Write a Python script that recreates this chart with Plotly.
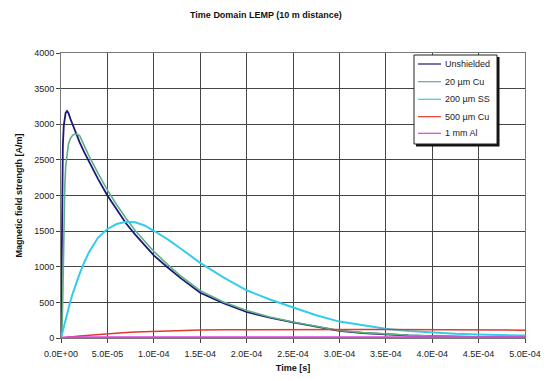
import plotly.graph_objects as go

# time samples [s]
time_s = [0, 1e-6, 2e-6, 3e-6, 4e-6, 5e-6, 6.5e-6, 8e-6, 1e-5, 1.25e-5, 1.5e-5, 1.75e-5,
          2e-5, 2.5e-5, 3e-5, 4e-5, 5e-5, 6e-5, 7e-5, 8e-5, 9e-5, 1e-4, 1.15e-4, 1.3e-4,
          1.5e-4, 1.75e-4, 2e-4, 2.25e-4, 2.5e-4, 2.75e-4, 3e-4, 3.25e-4, 3.5e-4, 3.75e-4,
          4e-4, 4.25e-4, 4.5e-4, 4.75e-4, 5e-4]

unshielded = [0, 1900, 2700, 2980, 3100, 3160, 3185, 3160, 3080, 2990, 2900, 2825,
              2750, 2610, 2480, 2230, 2000, 1800, 1610, 1450, 1300, 1160, 990, 830,
              635, 490, 365, 285, 220, 155, 100, 70, 50, 35,
              25, 18, 13, 10, 8]

cu_20um = [0, 50, 600, 1500, 2100, 2400, 2600, 2720, 2800, 2845, 2862, 2860,
           2840, 2700, 2560, 2310, 2075, 1870, 1680, 1510, 1360, 1215, 1030, 860,
           665, 505, 385, 295, 225, 160, 105, 75, 52, 38,
           28, 20, 15, 11, 9]

ss_200um = [0, 55, 110, 165, 215, 265, 345, 420, 510, 620, 720, 815,
            900, 1060, 1200, 1410, 1530, 1600, 1630, 1625, 1580, 1505, 1385, 1245,
            1055, 850, 670, 540, 430, 320, 230, 175, 130, 100,
            75, 60, 48, 40, 35]

cu_500um = [0, 2, 3, 5, 6, 8, 10, 12, 15, 18, 22, 25,
            28, 34, 40, 50, 60, 70, 78, 85, 90, 95, 102, 107,
            112, 116, 118, 119, 120, 120, 120, 120, 120, 120,
            120, 119, 118, 115, 110]

al_1mm = [0, 2, 3, 4, 5, 6, 6, 7, 7, 7, 7, 7,
          7, 7, 7, 7, 7, 7, 7, 7, 7, 7, 7, 7,
          7, 7, 7, 7, 7, 7, 7, 7, 7, 7,
          7, 7, 7, 7, 7]

series_names = ["Unshielded", "20 µm Cu", "200 µm SS", "500 µm Cu", "1 mm Al"]
series_values = [unshielded, cu_20um, ss_200um, cu_500um, al_1mm]
series_colors = ["#1a1a7a", "#5fae84", "#33ccee", "#e03a2e", "#e040e0"]
series_widths = [1.8, 1.6, 2, 1.5, 2.5]

x_tick_vals = [0, 5e-5, 1e-4, 1.5e-4, 2e-4, 2.5e-4, 3e-4, 3.5e-4, 4e-4, 4.5e-4, 5e-4]
x_tick_text = ["0.0E+00", "5.0E-05", "1.0E-04", "1.5E-04", "2.0E-04", "2.5E-04",
               "3.0E-04", "3.5E-04", "4.0E-04", "4.5E-04", "5.0E-04"]
y_tick_vals = [0, 500, 1000, 1500, 2000, 2500, 3000, 3500, 4000]

FONT = "Liberation Sans, Arial, sans-serif"
W, H = 546, 381
ML, MR, MT, MB = 61, 21, 53, 43
PW, PH = W - ML - MR, H - MT - MB


def px_x(x):
    return (x - ML) / PW


def px_y(y):
    return (H - MB - y) / PH


fig = go.Figure()
for name, vals, col, w in zip(series_names, series_values, series_colors, series_widths):
    fig.add_trace(go.Scatter(x=time_s, y=vals, mode="lines", name=name,
                             line=dict(color=col, width=w), showlegend=False))

# legend box (Excel style with drop shadow)
shapes = [
    dict(type="rect", xref="paper", yref="paper", x0=px_x(416), x1=px_x(499.5),
         y0=px_y(57), y1=px_y(146.5), fillcolor="#111", line=dict(width=0), layer="above"),
    dict(type="rect", xref="paper", yref="paper", x0=px_x(414), x1=px_x(497),
         y0=px_y(55), y1=px_y(144), fillcolor="white", line=dict(color="#222", width=1),
         layer="above"),
]
annotations = []
row_y = [64, 81.7, 99.3, 116.7, 133.3]
for name, col, ry in zip(series_names, series_colors, row_y):
    shapes.append(dict(type="line", xref="paper", yref="paper", x0=px_x(418), x1=px_x(441),
                       y0=px_y(ry), y1=px_y(ry), line=dict(color=col, width=1.2), layer="above"))
    annotations.append(dict(text=name, xref="paper", yref="paper", x=px_x(442.5), y=px_y(ry),
                            xanchor="left", yanchor="middle", showarrow=False,
                            font=dict(size=9, color="#222", family=FONT)))

fig.update_layout(
    width=W, height=H,
    margin=dict(l=ML, r=MR, t=MT, b=MB, autoexpand=False),
    paper_bgcolor="white", plot_bgcolor="white",
    font=dict(family=FONT, size=9, color="#222"),
    title=dict(text="<b>Time Domain LEMP (10 m distance)</b>", x=0.487, xref="container",
               y=1 - 15 / H, yref="container", yanchor="middle", font=dict(size=9, color="#111")),
    showlegend=False,
    shapes=shapes,
    annotations=annotations,
)
fig.update_xaxes(range=[0, 5e-4], tickvals=x_tick_vals, ticktext=x_tick_text,
                 showgrid=True, gridcolor="#444", gridwidth=1,
                 showline=True, linecolor="#777", mirror=True,
                 ticks="outside", ticklen=4, tickcolor="#444",
                 zeroline=False, automargin=False, ticklabelstandoff=3,
                 title=dict(text="<b>Time [s]</b>", font=dict(size=9, color="#111"), standoff=6))
fig.update_yaxes(range=[0, 4000], tickvals=y_tick_vals,
                 showgrid=True, gridcolor="#444", gridwidth=1,
                 showline=True, linecolor="#777", mirror=True,
                 ticks="outside", ticklen=4, tickcolor="#444",
                 zeroline=False, automargin=False,
                 title=dict(text="<b>Magnetic field strength [A/m]</b>", font=dict(size=9, color="#111"), standoff=10))

fig.write_html("out.html", config={"displayModeBar": False},
               post_script="document.body.style.margin='0';")
